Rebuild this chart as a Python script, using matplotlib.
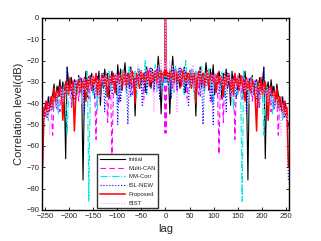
import matplotlib
matplotlib.use("Agg")
import matplotlib.pyplot as plt

plt.rcParams['font.family'] = ['Liberation Sans', 'DejaVu Sans']

# lags of the right half (mirrored for the left half; autocorrelation is symmetric)
half_lags = [0, 1] + list(range(3, 256, 3))

initial = [0, -28, -30, -26, -45, -27, -18, -29, -25, -31,
           -24, -33, -27, -29, -23, -35, -28, -26, -31, -25,
           -30, -27, -46, -26, -29, -23, -33, -27, -30, -21,
           -28, -34, -24, -30, -22, -36, -27, -31, -25, -29,
           -38, -26, -30, -24, -33, -28, -41, -25, -32, -27,
           -30, -35, -26, -31, -28, -37, -25, -32, -76, -29,
           -33, -27, -36, -30, -29, -40, -28, -34, -31, -23,
           -66, -33, -30, -38, -29, -35, -32, -40, -31, -36,
           -38, -42, -37, -45, -40, -47, -50]
multican = [0, -54, -27, -31, -25, -29, -33, -24, -28, -35,
            -26, -30, -23, -32, -28, -26, -38, -29, -24, -31,
            -27, -33, -29, -25, -36, -28, -31, -26, -34, -29,
            -25, -32, -28, -40, -27, -30, -26, -35, -64, -29,
            -31, -49, -27, -33, -29, -26, -37, -30, -28, -57,
            -32, -27, -34, -30, -38, -28, -33, -29, -36, -31,
            -28, -39, -32, -30, -35, -29, -42, -31, -34, -33,
            -30, -37, -35, -32, -44, -36, -34, -41, -38, -55,
            -40, -37, -46, -42, -39, -48, -52]
mmcorr = [0, -30, -26, -33, -24, -29, -27, -35, -22, -28,
          -31, -25, -30, -27, -36, -20, -29, -26, -33, -24,
          -28, -38, -25, -30, -27, -32, -23, -29, -35, -26,
          -30, -24, -33, -28, -40, -26, -31, -27, -29, -34,
          -25, -30, -37, -28, -32, -26, -35, -29, -43, -27,
          -31, -36, -28, -33, -86, -25, -30, -34, -29, -38,
          -31, -28, -36, -33, -30, -42, -32, -29, -37, -55,
          -34, -31, -39, -36, -33, -45, -35, -40, -37, -43,
          -41, -38, -48, -43, -46, -44, -47]
islnew = [0, -29, -25, -32, -27, -38, -24, -30, -26, -34,
          -28, -23, -31, -27, -35, -25, -29, -41, -26, -30,
          -24, -33, -28, -31, -26, -37, -29, -50, -27, -32,
          -25, -30, -39, -28, -50, -26, -31, -29, -36, -27,
          -33, -28, -30, -44, -26, -32, -29, -35, -27, -31,
          -38, -28, -32, -30, -27, -34, -29, -45, -31, -28,
          -35, -30, -33, -29, -38, -31, -36, -32, -30, -23,
          -36, -33, -40, -34, -37, -32, -43, -38, -35, -41,
          -39, -44, -41, -47, -43, -49, -76]
proposed = [0, -27, -25, -30, -25, -28, -26, -31, -25, -27,
            -30, -26, -32, -25, -28, -30, -26, -29, -25, -33,
            -27, -26, -40, -28, -25, -31, -27, -26, -32, -28,
            -25, -33, -27, -26, -30, -28, -35, -26, -31, -27,
            -29, -37, -26, -32, -28, -27, -34, -29, -36, -26,
            -31, -28, -34, -27, -32, -29, -39, -28, -33, -30,
            -35, -29, -32, -37, -53, -30, -34, -28, -36, -31,
            -30, -38, -48, -33, -32, -37, -34, -39, -33, -42,
            -37, -41, -44, -39, -46, -42, -70]
bist = [0, -24, -21, -30, -20, -27, -22, -35, -25, -44,
        -23, -29, -26, -32, -24, -28, -40, -27, -25, -31,
        -22, -34, -28, -26, -30, -24, -37, -29, -27, -33,
        -25, -29, -31, -27, -35, -26, -30, -28, -42, -27,
        -29, -32, -26, -34, -28, -30, -27, -38, -29, -31,
        -33, -27, -30, -36, -28, -32, -35, -29, -31, -40,
        -30, -34, -32, -29, -37, -33, -31, -38, -35, -32,
        -36, -34, -39, -33, -41, -37, -35, -42, -38, -40,
        -44, -55, -41, -46, -43, -48, -45]

labels = ['Initial', 'Multi-CAN', 'MM-Corr', 'ISL-NEW', 'Proposed', 'BIST']
x_ticks = [-250, -200, -150, -100, -50, 0, 50, 100, 150, 200, 250]
y_ticks = [0, -10, -20, -30, -40, -50, -60, -70, -80, -90]


def mirror(v):
    return list(reversed(v[1:])) + list(v)


lags = [-l for l in reversed(half_lags[1:])] + half_lags

fig = plt.figure(figsize=(3.21, 2.41), dpi=100)
ax = fig.add_axes([0.131, 0.129, 0.769, 0.797])

styles = [
    dict(color='black', ls='-', lw=0.8),
    dict(color='#ff00ff', ls=(0, (5, 3)), lw=0.8),
    dict(color='#00e5e5', ls='-.', lw=0.8),
    dict(color='#0000ff', ls=':', lw=0.8),
    dict(color='#ff0000', ls='-', lw=1.1),
    dict(color='#ff99ff', ls=':', lw=0.8),
]
series = [initial, multican, mmcorr, islnew, proposed, bist]
for vals, lab, st in zip(series, labels, styles):
    ax.plot(lags, mirror(vals), label=lab, **st)

ax.set_xlim(-256, 256)
ax.set_ylim(-90, 0)
ax.set_xticks(x_ticks)
ax.set_yticks(y_ticks)
ax.tick_params(direction='in', labelsize=5.5, length=2.5, width=0.7,
               top=True, right=True, colors='#262626', pad=2)
for s in ax.spines.values():
    s.set_linewidth(1.0)
    s.set_color('black')
ax.set_xlabel('lag', fontsize=8, color='#262626', labelpad=3)
ax.set_ylabel('Correlation level(dB)', fontsize=8, color='#262626', labelpad=2)

leg = ax.legend(loc='lower left', bbox_to_anchor=(0.222, 0.008), fontsize=4.3,
                frameon=True, fancybox=False, edgecolor='black',
                handlelength=4.2, handletextpad=0.6, borderpad=0.45,
                labelspacing=0.6, borderaxespad=0)
leg.get_frame().set_linewidth(1.0)
for t in leg.get_texts():
    t.set_color('#262626')

fig.savefig('out.png', dpi=100)
